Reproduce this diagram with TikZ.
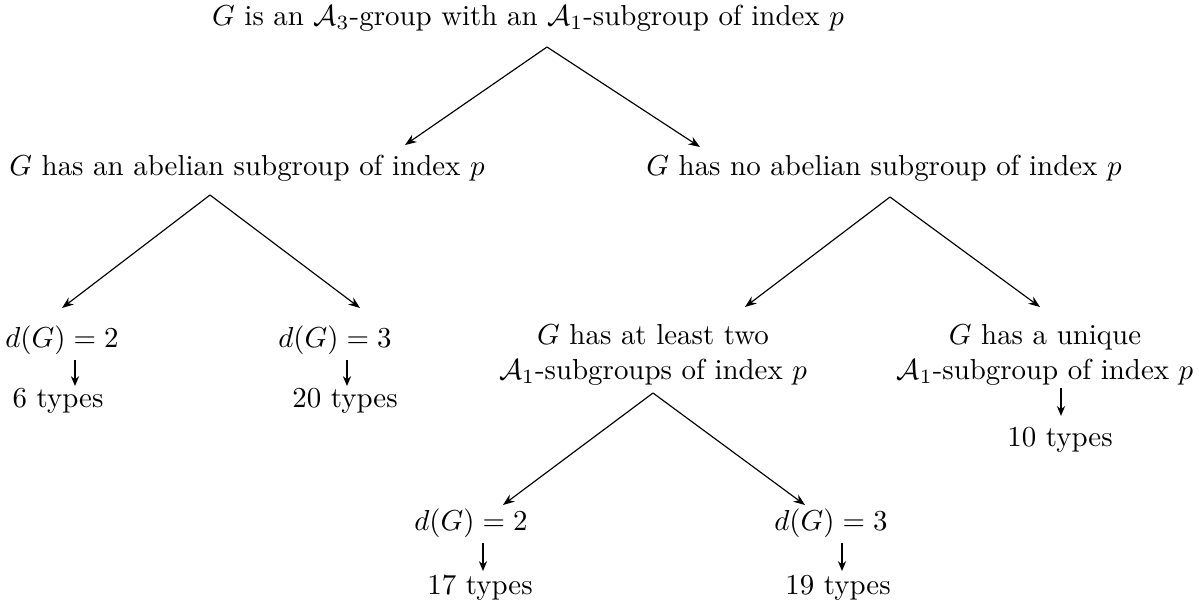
\documentclass[tikz,border=0pt]{standalone}
\usepackage{amsmath}
\usetikzlibrary{arrows.meta}

\begin{document}
\begin{tikzpicture}[
  x=0.346pt,
  y=-0.346pt,
  every node/.style={font=\normalsize, inner sep=0pt, align=center},
  branch/.style={line width=0.4pt, -{Stealth[length=4pt, width=3pt]}},
  count/.style={line width=0.7pt, -{Stealth[length=3.4pt, width=2.8pt]}}
]
  \useasboundingbox (0,0) rectangle (1199,610);

  % ---- root ----
  \node (root) at (528,18) {$G$ is an $\mathcal{A}_3$-group with an $\mathcal{A}_1$-subgroup of index $p$};
  \coordinate (root-split) at (547,47);

  % ---- first split ----
  \node (ab) at (247,168) {$G$ has an abelian subgroup of index $p$};
  \node (noab) at (884,168) {$G$ has no abelian subgroup of index $p$};
  \coordinate (ab-in) at (405,145);
  \coordinate (noab-in) at (700,147);
  \draw[branch] (root-split) -- (ab-in);
  \draw[branch] (root-split) -- (noab-in);

  % ---- abelian case ----
  \coordinate (ab-split) at (210,195);
  \node (abtwo) at (62,340) {$d(G)=2$};
  \node (abthree) at (335,340) {$d(G)=3$};
  \draw[branch] (ab-split) -- (62,308);
  \draw[branch] (ab-split) -- (360,308);
  \node (abtwo-n) at (58,401) {6 types};
  \node (abthree-n) at (345,401) {20 types};
  \draw[count] (abtwo.south -| 75,0) ++(0,5) -- ++(0,26);
  \draw[count] (abthree.south -| 347,0) ++(0,5) -- ++(0,26);

  % ---- non-abelian case ----
  \coordinate (noab-split) at (890,197);
  \node (many) at (653,355) {$G$ has at least two\\$\mathcal{A}_1$-subgroups of index $p$};
  \node (uniq) at (1045,355) {$G$ has a unique\\$\mathcal{A}_1$-subgroup of index $p$};
  \draw[branch] (noab-split) -- (745,307);
  \draw[branch] (noab-split) -- (1040,307);
  \node (uniq-n) at (1060,440) {10 types};
  \draw[count] (uniq.south -| 1061,0) ++(0,2) -- ++(0,28);

  % ---- at least two ----
  \coordinate (many-split) at (653,393);
  \node (manytwo) at (471,523) {$d(G)=2$};
  \node (manythree) at (831,523) {$d(G)=3$};
  \draw[branch] (many-split) -- (503,505);
  \draw[branch] (many-split) -- (805,505);
  \node (manytwo-n) at (480,588) {17 types};
  \node (manythree-n) at (838,588) {19 types};
  \draw[count] (manytwo.south -| 483,0) ++(0,5) -- ++(0,28);
  \draw[count] (manythree.south -| 842,0) ++(0,5) -- ++(0,28);
\end{tikzpicture}
\end{document}
